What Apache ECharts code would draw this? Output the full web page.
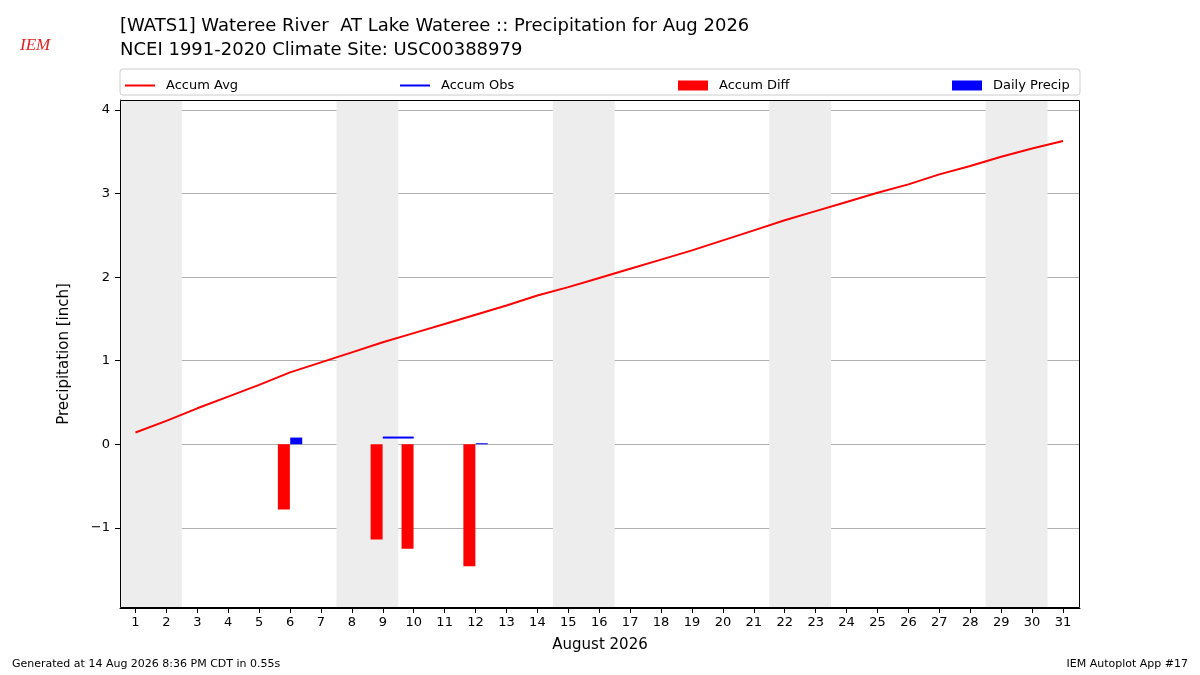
<!DOCTYPE html>
<html>
<head>
<meta charset="utf-8">
<script src="https://cdn.jsdelivr.net/npm/echarts@6/dist/echarts.min.js"></script>
<style>
html,body{margin:0;padding:0;background:#fff;}
#chart{width:1200px;height:675px;}
</style>
</head>
<body>
<div id="chart"></div>
<script>
var days = [1,2,3,4,5,6,7,8,9,10,11,12,13,14,15,16,17,18,19,20,21,22,23,24,25,26,27,28,29,30,31];
var accumAvg = [0.14,0.28,0.43,0.57,0.71,0.86,0.98,1.10,1.22,1.33,1.44,1.55,1.66,1.78,1.88,1.99,2.10,2.21,2.32,2.44,2.56,2.68,2.79,2.90,3.01,3.11,3.23,3.33,3.44,3.54,3.63];
var obsDays = [9,10];
var accumObs = [0.08,0.08];
var diffDays = [6,9,10,12];
var accumDiff = [-0.78,-1.14,-1.25,-1.46];
var precipDays = [6,12];
var dailyPrecip = [0.08,0.01];
var weekends = [[0.5,2.5],[7.5,9.5],[14.5,16.5],[21.5,23.5],[28.5,30.5]];
var yTicks = [-1,0,1,2,3,4];

var font = 'DejaVu Sans';
var myChart = echarts.init(document.getElementById('chart'));
function pairs(xs, ys, dx){
    return xs.map(function(x,i){ return [x+dx, ys[i]]; });
}
var lineIcon = 'path://M0,0H30V2H0Z';
// 图例分四处摆放
var legendItems = [
    {name:'Accum Avg', icon:lineIcon, left:120},
    {name:'Accum Obs', icon:lineIcon, left:395},
    {name:'Accum Diff', icon:'rect', left:673},
    {name:'Daily Precip', icon:'rect', left:947}
];
var option = {
    animation:false,
    textStyle:{fontFamily:font},
    title:[
        {text:'[WATS1] Wateree River  AT Lake Wateree :: Precipitation for Aug 2026\nNCEI 1991-2020 Climate Site: USC00388979',
         left:115, top:9, textStyle:{fontSize:18, fontWeight:'normal', color:'#000', lineHeight:24, fontFamily:font}},
        {text:'Generated at 14 Aug 2026 8:36 PM CDT in 0.55s', left:7, top:654, textStyle:{fontSize:11, fontWeight:'normal', color:'#000', fontFamily:font}},
        {text:'IEM Autoplot App #17', right:7, top:654, textStyle:{fontSize:11, fontWeight:'normal', color:'#000', fontFamily:font}},
        {text:'IEM', left:15, top:32, textStyle:{fontSize:17, fontStyle:'italic', fontWeight:'normal', color:'#d22', fontFamily:'Liberation Serif'}}
    ],
    graphic:[
        {type:'rect', shape:{x:120, y:69, width:960, height:26, r:3}, style:{fill:'#fff', stroke:'#ccc', lineWidth:1}, z:-1},
        {type:'rect', shape:{x:120.5, y:100.5, width:959, height:507}, style:{fill:'none', stroke:'#000', lineWidth:1}, z:100}
    ],
    legend:legendItems.map(function(l){
        return {top:74, left:l.left, itemWidth:30, itemHeight:10,
            textStyle:{fontSize:13, color:'#000', fontFamily:font, padding:[0,0,0,6]},
            data:[{name:l.name, icon:l.icon}]};
    }),
    grid:{left:120, right:120, top:100, bottom:67},
    xAxis:{
        type:'value', min:0.5, max:31.55,
        name:'August 2026', nameLocation:'middle', nameGap:30,
        nameTextStyle:{fontSize:15, color:'#000', fontFamily:font},
        axisLine:{onZero:false, lineStyle:{color:'#000'}},
        axisTick:{customValues:days, length:5, lineStyle:{color:'#000'}},
        axisLabel:{customValues:days, color:'#000', fontSize:13, formatter:function(v){return v;}},
        splitLine:{show:false}
    },
    yAxis:{
        type:'value', min:-1.96, max:4.12,
        name:'Precipitation [inch]', nameLocation:'middle', nameGap:48,
        nameTextStyle:{fontSize:15, color:'#000', fontFamily:font},
        axisLine:{show:true, lineStyle:{color:'#000'}},
        axisTick:{show:true, customValues:yTicks, length:5, lineStyle:{color:'#000'}},
        axisLabel:{customValues:yTicks, color:'#000', fontSize:13, margin:10, formatter:function(v){return v<0?'\u2212'+(-v):v;}},
        splitLine:{show:true, customValues:yTicks, lineStyle:{color:'#b0b0b0', width:1}}
    },
    series:[
        {name:'Accum Avg', type:'line', data:pairs(days, accumAvg, 0), symbol:'none',
         lineStyle:{color:'#ff0000', width:2}, itemStyle:{color:'#ff0000'}, z:5,
         markArea:{silent:true, itemStyle:{color:'#ededed'},
            data:weekends.map(function(w){return [{xAxis:w[0]},{xAxis:w[1]}];})}},
        {name:'Accum Obs', type:'line', data:pairs(obsDays, accumObs, 0), symbol:'none',
         lineStyle:{color:'#0000ff', width:2}, itemStyle:{color:'#0000ff'}, z:5},
        {name:'Accum Diff', type:'bar', data:pairs(diffDays, accumDiff, -0.2), barWidth:12,
         itemStyle:{color:'#ff0000'}, z:4},
        {name:'Daily Precip', type:'bar', data:pairs(precipDays, dailyPrecip, 0.2), barWidth:12,
         barGap:'-100%', barMinHeight:1, itemStyle:{color:'#0000ff'}, z:4}
    ]
};
myChart.setOption(option);
</script>
</body>
</html>
